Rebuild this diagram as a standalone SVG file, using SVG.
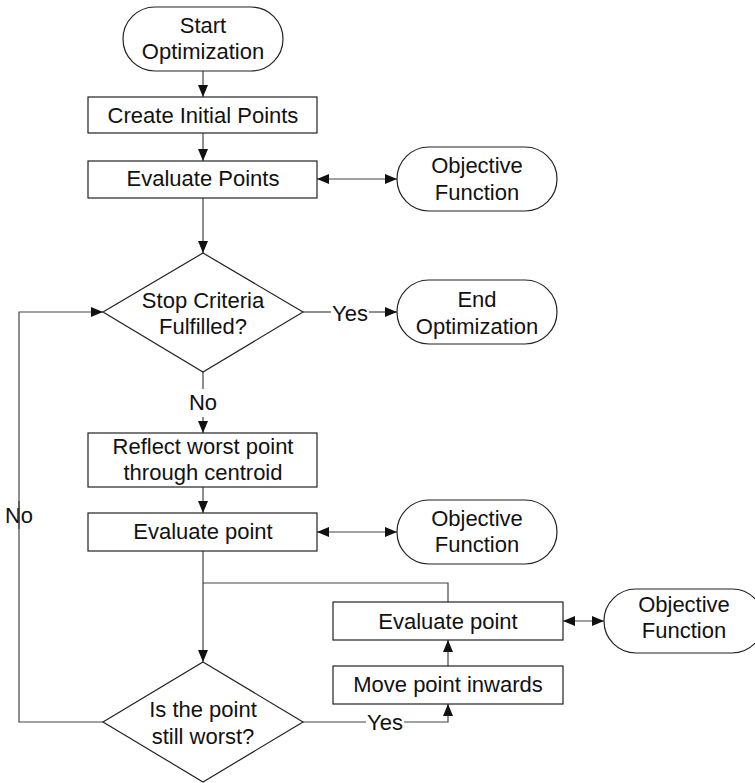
<svg xmlns="http://www.w3.org/2000/svg" width="755" height="783" viewBox="0 0 755 783">
  <style>
    .shape { fill: #ffffff; stroke: #222222; stroke-width: 1.2; }
    .conn { fill: none; stroke: #444444; stroke-width: 1.2; }
    .label { font-family: "Liberation Sans", Arial, sans-serif; font-size: 22px; fill: #111111; text-anchor: middle; }
  </style>
  <defs>
    <marker id="arrow" viewBox="0 0 12 10" markerUnits="userSpaceOnUse" markerWidth="12" markerHeight="10" refX="12" refY="5" orient="auto-start-reverse">
      <path d="M0,0 L12,5 L0,10 z" fill="#111111"/>
    </marker>
  </defs>
  <rect width="755" height="783" fill="#ffffff"/>

  <!-- connectors -->
  <g id="connectors">
    <line class="conn" x1="203" y1="71" x2="203" y2="97" marker-end="url(#arrow)"/>
    <line class="conn" x1="203" y1="133" x2="203" y2="161" marker-end="url(#arrow)"/>
    <line class="conn" x1="317" y1="179" x2="397" y2="179" marker-start="url(#arrow)" marker-end="url(#arrow)"/>
    <line class="conn" x1="203" y1="198" x2="203" y2="253" marker-end="url(#arrow)"/>
    <!-- Yes: stop criteria to end -->
    <line class="conn" x1="303" y1="312" x2="331" y2="312"/>
    <text class="label" x="350" y="321">Yes</text>
    <line class="conn" x1="369" y1="312" x2="397" y2="312" marker-end="url(#arrow)"/>
    <!-- No: stop criteria to reflect -->
    <line class="conn" x1="203" y1="372" x2="203" y2="389"/>
    <text class="label" x="203" y="410">No</text>
    <line class="conn" x1="203" y1="417" x2="203" y2="433" marker-end="url(#arrow)"/>
    <line class="conn" x1="203" y1="487" x2="203" y2="513" marker-end="url(#arrow)"/>
    <line class="conn" x1="317" y1="532" x2="397" y2="532" marker-start="url(#arrow)" marker-end="url(#arrow)"/>
    <line class="conn" x1="203" y1="551" x2="203" y2="662" marker-end="url(#arrow)"/>
    <polyline class="conn" points="448,602 448,583 203,583"/>
    <line class="conn" x1="448" y1="666" x2="448" y2="640" marker-end="url(#arrow)"/>
    <line class="conn" x1="563" y1="621" x2="604" y2="621" marker-start="url(#arrow)" marker-end="url(#arrow)"/>
    <!-- Yes: still worst to move inwards -->
    <line class="conn" x1="303" y1="722" x2="366" y2="722"/>
    <text class="label" x="385" y="730">Yes</text>
    <polyline class="conn" points="404,722 448,722 448,704" marker-end="url(#arrow)"/>
    <!-- No: loop back to stop criteria -->
    <polyline class="conn" points="103,722 19,722 19,501"/>
    <text class="label" x="19" y="523">No</text>
    <polyline class="conn" points="19,529 19,312 103,312" marker-end="url(#arrow)"/>
  </g>

  <g id="start">
    <rect class="shape" x="123" y="7" width="160" height="64" rx="32" ry="32"/>
    <text class="label" x="203" y="33">Start</text>
    <text class="label" x="203" y="59">Optimization</text>
  </g>

  <g id="create-points">
    <rect class="shape" x="88" y="97" width="229" height="36"/>
    <text class="label" x="203" y="123">Create Initial Points</text>
  </g>

  <g id="evaluate-points">
    <rect class="shape" x="88" y="161" width="229" height="37"/>
    <text class="label" x="203" y="186">Evaluate Points</text>
  </g>

  <g id="objective-1">
    <rect class="shape" x="397" y="147" width="160" height="64" rx="32" ry="32"/>
    <text class="label" x="477" y="172.5">Objective</text>
    <text class="label" x="477" y="199.5">Function</text>
  </g>

  <g id="stop-criteria">
    <polygon class="shape" points="203,253 303,312 203,372 103,312"/>
    <text class="label" x="203" y="307.5">Stop Criteria</text>
    <text class="label" x="203" y="334">Fulfilled?</text>
  </g>

  <g id="end">
    <rect class="shape" x="397" y="280" width="160" height="64" rx="32" ry="32"/>
    <text class="label" x="477" y="306.5">End</text>
    <text class="label" x="477" y="334">Optimization</text>
  </g>

  <g id="reflect">
    <rect class="shape" x="88" y="433" width="229" height="54"/>
    <text class="label" x="203" y="454">Reflect worst point</text>
    <text class="label" x="203" y="480">through centroid</text>
  </g>

  <g id="evaluate-point">
    <rect class="shape" x="88" y="513" width="229" height="38"/>
    <text class="label" x="203" y="539">Evaluate point</text>
  </g>

  <g id="objective-2">
    <rect class="shape" x="397" y="500" width="160" height="64" rx="32" ry="32"/>
    <text class="label" x="477" y="525.5">Objective</text>
    <text class="label" x="477" y="551.5">Function</text>
  </g>

  <g id="evaluate-point-inner">
    <rect class="shape" x="333" y="602" width="230" height="38"/>
    <text class="label" x="448" y="628.5">Evaluate point</text>
  </g>

  <g id="objective-3">
    <rect class="shape" x="604" y="589" width="160" height="64" rx="32" ry="32"/>
    <text class="label" x="684" y="611.5">Objective</text>
    <text class="label" x="684" y="637.5">Function</text>
  </g>

  <g id="move-inwards">
    <rect class="shape" x="333" y="666" width="230" height="38"/>
    <text class="label" x="448" y="692">Move point inwards</text>
  </g>

  <g id="still-worst">
    <polygon class="shape" points="203,662 303,722 203,782 103,722"/>
    <text class="label" x="203" y="717">Is the point</text>
    <text class="label" x="203" y="743.5">still worst?</text>
  </g>
</svg>
